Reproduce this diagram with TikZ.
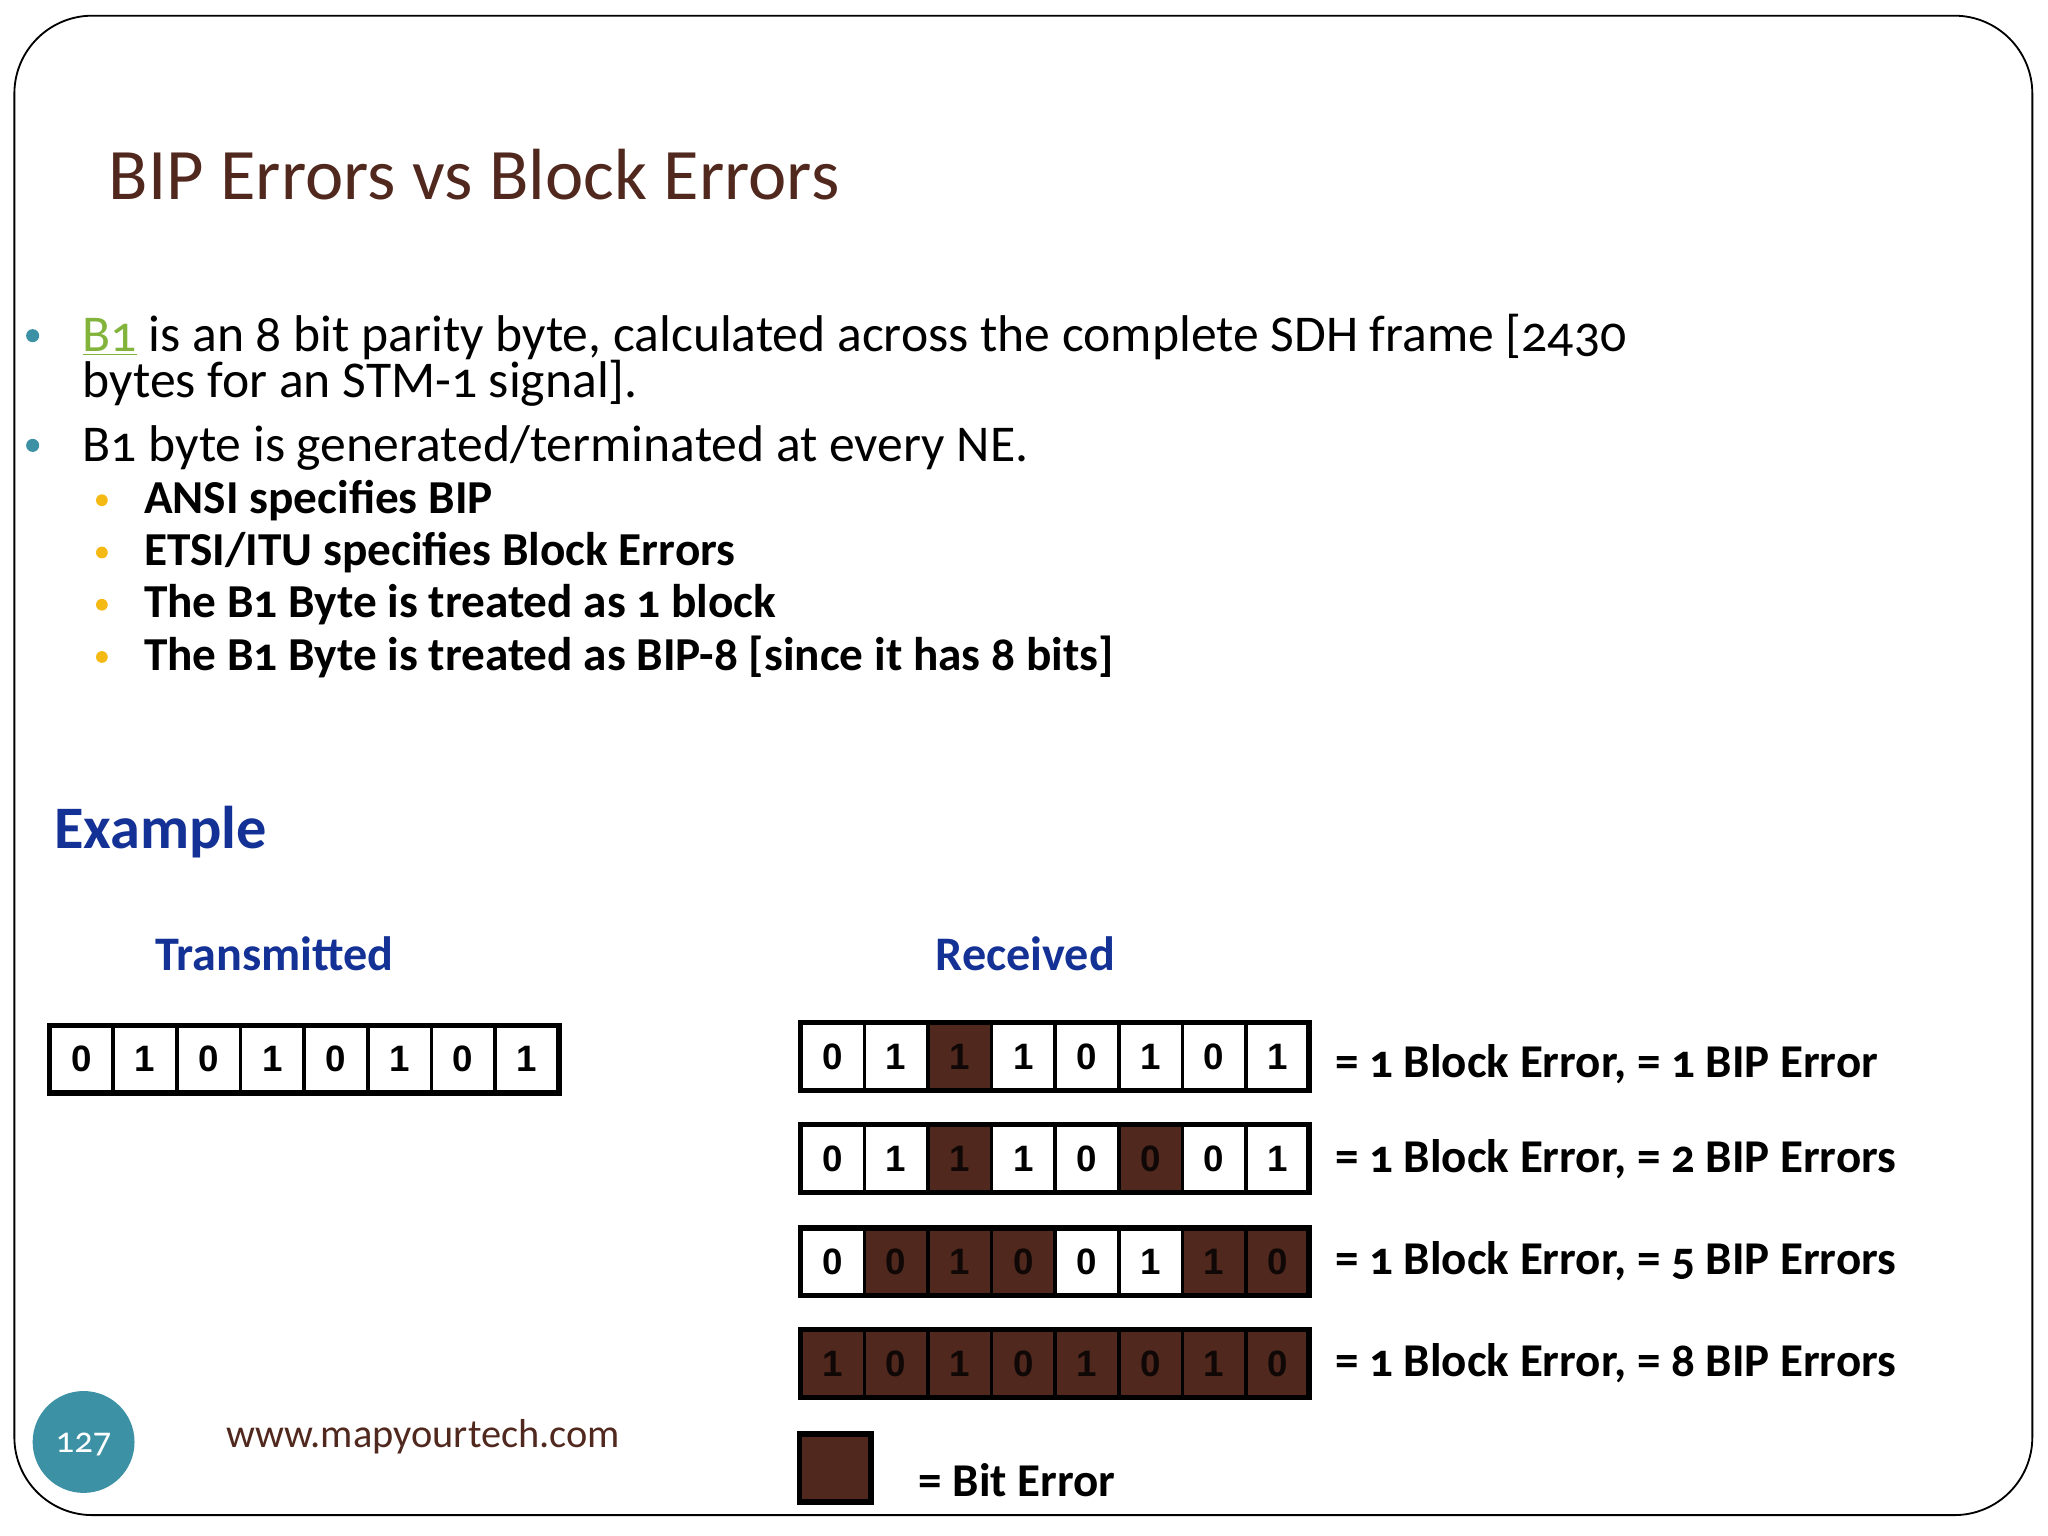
\documentclass[tikz,border=0pt]{standalone}
\usepackage{fontspec}
\setmainfont{Carlito}[Numbers=OldStyle]
\newfontfamily\cellfont{Liberation Sans}
\definecolor{brn}{RGB}{80,40,30}
\definecolor{bl}{RGB}{20,50,150}
\definecolor{teal}{RGB}{60,145,165}
\definecolor{yel}{RGB}{245,185,20}
\definecolor{grn}{RGB}{130,180,60}
\begin{document}
\begin{tikzpicture}[x=0.02cm,y=-0.02cm,
  txt/.style={anchor=base west,inner sep=0},
  cell/.style={draw=black,line width=1.6pt,minimum width=48.7*0.02cm,minimum height=51*0.02cm,inner sep=0,font=\cellfont\bfseries\fontsize{16}{16}\selectfont},
  err/.style={fill=brn,text=black!80!brn},
  lab/.style={txt,font=\bfseries\fontsize{20.5}{20.5}\selectfont}]
\useasboundingbox (0,0) rectangle (1568,1176);
\draw[line width=0.8pt,rounded corners=34pt] (11,12) rectangle (1556,1160);
\node[txt,text=brn,font=\fontsize{31.6}{31.6}\selectfont] (title) at (83,153) {BIP Errors vs Block Errors};
\fill[teal] (25,257) circle (5);
\fill[teal] (25,341) circle (5);
\node[txt,font=\fontsize{22.5}{22.5}\selectfont] (b1) at (63,269) {\textcolor{grn}{\underline{B1}} is an 8 bit parity byte, calculated across the complete SDH frame [2430};
\node[txt,font=\fontsize{22.5}{22.5}\selectfont] (b1b) at (63,304) {bytes for an STM-1 signal].};
\node[txt,font=\fontsize{22.5}{22.5}\selectfont] (b2) at (63,353) {B1 byte is generated/terminated at every NE.};
\foreach \y/\t [count=\i] in {383/{ANSI specifies BIP},423/{ETSI/ITU specifies Block Errors},463/{The B1 Byte is treated as 1 block},503/{The B1 Byte is treated as BIP-8 [since it has 8 bits]}}{
  \fill[yel] (78,\y) circle (4.5);
  \node[txt,font=\bfseries\fontsize{20.6}{20.6}\selectfont] (s\i) at (110,\y+10) {\t};
}
\node[txt,text=bl,font=\bfseries\fontsize{26.3}{26.3}\selectfont] (ex) at (41,650) {Example};
\node[text=bl,font=\bfseries\fontsize{21}{21}\selectfont] (tx) at (210,730) {Transmitted};
\node[text=bl,font=\bfseries\fontsize{21}{21}\selectfont] (rx) at (785,730) {Received};
% transmitted
\foreach \v [count=\i] in {0,1,0,1,0,1,0,1}
  \node[cell] (t\i) at (38+24.4+48.7*\i-48.7,811) {\v};
\draw[line width=2.4pt] (38,785) rectangle (428,837);
% received rows
\def\row#1#2#3{%
  \foreach \v/\e [count=\i] in {#2}{
    \ifnum\e=1 \node[cell,err] (r#1c\i) at (613+24.4+48.7*\i-48.7,#3) {\v};
    \else \node[cell] (r#1c\i) at (613+24.4+48.7*\i-48.7,#3) {\v};\fi}
  \draw[line width=2.4pt] (613,#3-26) rectangle (1002,#3+26);}
\row{1}{0/0,1/0,1/1,1/0,0/0,1/0,0/0,1/0}{809}
\row{2}{0/0,1/0,1/1,1/0,0/0,0/1,0/0,1/0}{887}
\row{3}{0/0,0/1,1/1,0/1,0/0,1/0,1/1,0/1}{966}
\row{4}{1/1,0/1,1/1,0/1,1/1,0/1,1/1,0/1}{1044}
\node[lab] (l1) at (1022,825) {= 1 Block Error, = 1 BIP Error};
\node[lab] (l2) at (1022,898) {= 1 Block Error, = 2 BIP Errors};
\node[lab] (l3) at (1022,976) {= 1 Block Error, = 5 BIP Errors};
\node[lab] (l4) at (1022,1054) {= 1 Block Error, = 8 BIP Errors};
\draw[line width=2.4pt,fill=brn] (612,1098) rectangle (667,1150);
\node[lab] (leg) at (703,1146) {= Bit Error};
\fill[teal] (64,1104) circle (39);
\node[text=white,font=\fontsize{16}{16}\selectfont] (pg) at (64,1106) {127};
\node[txt,text=brn,font=\fontsize{17.6}{17.6}\selectfont] (web) at (173,1108) {www.mapyourtech.com};
\end{tikzpicture}
\end{document}
